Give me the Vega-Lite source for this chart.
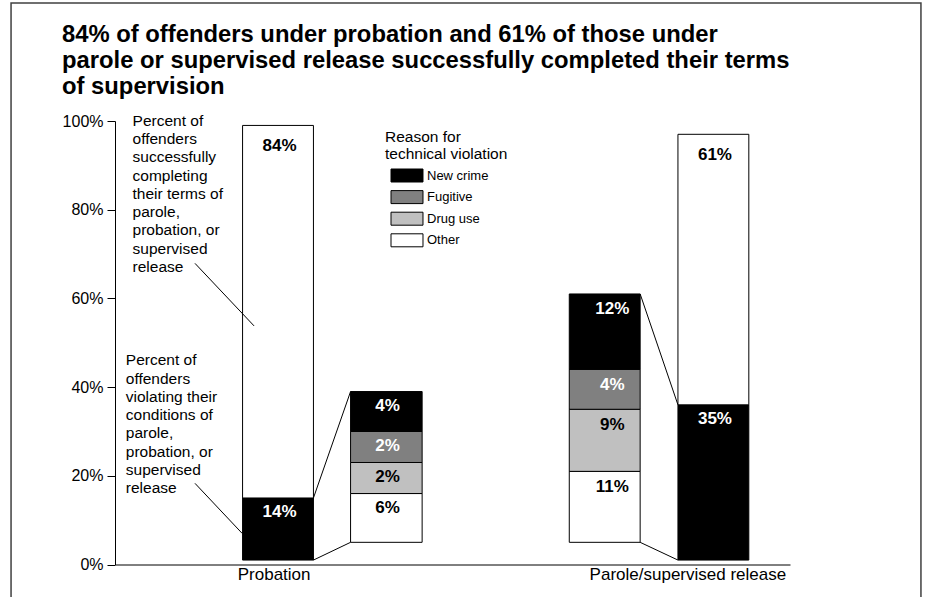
{
  "$schema": "https://vega.github.io/schema/vega-lite/v6.json",
  "width": 675,
  "height": 443.5,
  "autosize": {"type": "none"},
  "padding": {"left": 115, "top": 121, "right": 135, "bottom": 32.5},
  "background": "white",
  "title": {
    "text": ["84% of offenders under probation and 61% of those under", "parole or supervised release successfully completed their terms", "of supervision"],
    "anchor": "start",
    "frame": "group",
    "font": "Liberation Sans",
    "fontSize": 23.8,
    "fontWeight": "bold",
    "lineHeight": 26,
    "color": "black",
    "baseline": "top",
    "limit": 0,
    "dx": -53,
    "dy": 96.6,
    "offset": 0
  },
  "config": {
    "view": {"stroke": null},
    "font": "Liberation Sans",
    "text": {"font": "Liberation Sans"}
  },
  "datasets": {
    "bars": [
      {"bar": "Probation total", "segment": "Violated", "x0": 18.9, "x1": 29.4, "y0": 1, "y1": 15, "label": "14%"},
      {"bar": "Probation total", "segment": "Completed", "x0": 18.9, "x1": 29.4, "y0": 15, "y1": 99, "label": "84%"},
      {"bar": "Probation breakdown", "segment": "Other", "x0": 34.9, "x1": 45.5, "y0": 5, "y1": 16, "label": "6%"},
      {"bar": "Probation breakdown", "segment": "Drug use", "x0": 34.9, "x1": 45.5, "y0": 16, "y1": 23, "label": "2%"},
      {"bar": "Probation breakdown", "segment": "Fugitive", "x0": 34.9, "x1": 45.5, "y0": 23, "y1": 30, "label": "2%"},
      {"bar": "Probation breakdown", "segment": "New crime", "x0": 34.9, "x1": 45.5, "y0": 30, "y1": 39, "label": "4%"},
      {"bar": "Parole breakdown", "segment": "Other", "x0": 67.3, "x1": 77.8, "y0": 5, "y1": 21, "label": "11%"},
      {"bar": "Parole breakdown", "segment": "Drug use", "x0": 67.3, "x1": 77.8, "y0": 21, "y1": 35, "label": "9%"},
      {"bar": "Parole breakdown", "segment": "Fugitive", "x0": 67.3, "x1": 77.8, "y0": 35, "y1": 44, "label": "4%"},
      {"bar": "Parole breakdown", "segment": "New crime", "x0": 67.3, "x1": 77.8, "y0": 44, "y1": 61, "label": "12%"},
      {"bar": "Parole total", "segment": "Violated", "x0": 83.4, "x1": 93.9, "y0": 1, "y1": 36, "label": "35%"},
      {"bar": "Parole total", "segment": "Completed", "x0": 83.4, "x1": 93.9, "y0": 36, "y1": 97, "label": "61%"}
    ],
    "leaders": [
      {"xa": 11.85, "ya": 67.9, "xb": 20.6, "yb": 53.8},
      {"xa": 11.85, "ya": 18.3, "xb": 18.85, "yb": 7.0},
      {"xa": 29.4, "ya": 15, "xb": 34.9, "yb": 39},
      {"xa": 29.4, "ya": 1, "xb": 34.9, "yb": 5},
      {"xa": 77.8, "ya": 61, "xb": 83.4, "yb": 36},
      {"xa": 77.8, "ya": 5, "xb": 83.4, "yb": 1}
    ],
    "notes": [
      {"note": "Percent of\noffenders\nsuccessfully\ncompleting\ntheir terms of\nparole,\nprobation, or\nsupervised\nrelease", "x": 2.6, "y": 101.6},
      {"note": "Percent of\noffenders\nviolating their\nconditions of\nparole,\nprobation, or\nsupervised\nrelease", "x": 1.6, "y": 47.6}
    ]
  },
  "layer": [
    {
      "data": {"values": [{}]},
      "mark": {"type": "rect", "fill": null, "stroke": "#404040", "strokeWidth": 1.5},
      "encoding": {
        "x": {"datum": -15.4, "type": "quantitative", "scale": {"domain": [0, 100], "nice": false, "zero": false}},
        "x2": {"datum": 119.4},
        "y": {"datum": 126.6, "type": "quantitative", "scale": {"domain": [0, 100], "nice": false}},
        "y2": {"datum": -10}
      }
    },
    {
      "data": {"name": "bars"},
      "mark": {"type": "rect", "stroke": "black", "strokeWidth": 1, "opacity": 1},
      "encoding": {
        "x": {"field": "x0", "type": "quantitative", "title": null,
          "scale": {"domain": [0, 100], "nice": false, "zero": false},
          "axis": {"values": [23.5, 84.8], "labelExpr": "datum.value < 50 ? 'Probation' : 'Parole/supervised release'", "ticks": false, "grid": false, "labelFlush": false, "labelLimit": 0, "labelPadding": 2, "labelFontSize": 17, "labelFont": "Liberation Sans", "labelColor": "black", "domainColor": "black", "domainWidth": 1, "title": null}},
        "x2": {"field": "x1"},
        "y": {"field": "y0", "type": "quantitative", "title": null,
          "scale": {"domain": [0, 100], "nice": false},
          "axis": {"values": [0, 20, 40, 60, 80, 100], "labelExpr": "datum.value + '%'", "tickSize": 8, "tickColor": "black", "labelPadding": 4, "labelFontSize": 16, "labelFont": "Liberation Sans", "labelColor": "black", "domainColor": "black", "grid": false, "title": null}},
        "y2": {"field": "y1"},
        "fill": {"field": "segment", "type": "nominal",
          "scale": {"domain": ["New crime", "Fugitive", "Drug use", "Other", "Violated", "Completed"], "range": ["#000000", "#808080", "#c0c0c0", "#ffffff", "#000000", "#ffffff"]},
          "legend": {
            "values": ["New crime", "Fugitive", "Drug use", "Other"],
            "title": ["Reason for", "technical violation"],
            "orient": "none", "legendX": 270, "legendY": 9,
            "titleFont": "Liberation Sans", "titleFontSize": 15.5, "titleFontWeight": "normal", "titleLineHeight": 17, "titleColor": "black", "titlePadding": 6,
            "labelFont": "Liberation Sans", "labelFontSize": 13, "labelColor": "black", "labelOffset": 13,
            "symbolType": "M-2.46,-1H2.46V1H-2.46Z", "symbolSize": 169, "symbolStrokeColor": "black", "symbolStrokeWidth": 1, "symbolOpacity": 1, "symbolOffset": 15,
            "rowPadding": 3.6
          }}
      }
    },
    {
      "data": {"name": "leaders"},
      "mark": {"type": "rule", "stroke": "black", "strokeWidth": 1},
      "encoding": {
        "x": {"field": "xa", "type": "quantitative", "title": null},
        "x2": {"field": "xb"},
        "y": {"field": "ya", "type": "quantitative", "title": null},
        "y2": {"field": "yb"}
      }
    },
    {
      "data": {"name": "bars"},
      "transform": [{"filter": "datum.segment == 'Completed'"}],
      "mark": {"type": "text", "align": "center", "baseline": "alphabetic", "dx": 37, "dy": 26, "fontSize": 17, "fontWeight": "bold", "font": "Liberation Sans"},
      "encoding": {
        "x": {"field": "x0", "type": "quantitative", "title": null},
        "y": {"field": "y1", "type": "quantitative", "title": null},
        "text": {"field": "label"},
        "color": {"value": "black"}
      }
    },
    {
      "data": {"name": "bars"},
      "transform": [{"filter": "datum.segment != 'Completed' && datum.bar != 'Parole breakdown'"}],
      "mark": {"type": "text", "align": "center", "baseline": "alphabetic", "dx": 37, "dy": 19.5, "fontSize": 17, "fontWeight": "bold", "font": "Liberation Sans"},
      "encoding": {
        "x": {"field": "x0", "type": "quantitative", "title": null},
        "y": {"field": "y1", "type": "quantitative", "title": null},
        "text": {"field": "label"},
        "color": {"condition": {"test": "datum.segment == 'New crime' || datum.segment == 'Fugitive' || datum.segment == 'Violated'", "value": "white"}, "value": "black"}
      }
    },
    {
      "data": {"name": "bars"},
      "transform": [{"filter": "datum.bar == 'Parole breakdown'"}],
      "mark": {"type": "text", "align": "center", "baseline": "alphabetic", "dx": 43, "dy": 20.5, "fontSize": 17, "fontWeight": "bold", "font": "Liberation Sans"},
      "encoding": {
        "x": {"field": "x0", "type": "quantitative", "title": null},
        "y": {"field": "y1", "type": "quantitative", "title": null},
        "text": {"field": "label"},
        "color": {"condition": {"test": "datum.segment == 'New crime' || datum.segment == 'Fugitive'", "value": "white"}, "value": "black"}
      }
    },
    {
      "data": {"name": "notes"},
      "mark": {"type": "text", "align": "left", "baseline": "top", "lineBreak": "\n", "lineHeight": 18.25, "fontSize": 15.5, "font": "Liberation Sans", "color": "black"},
      "encoding": {
        "x": {"field": "x", "type": "quantitative", "title": null},
        "y": {"field": "y", "type": "quantitative", "title": null},
        "text": {"field": "note"}
      }
    }
  ]
}
